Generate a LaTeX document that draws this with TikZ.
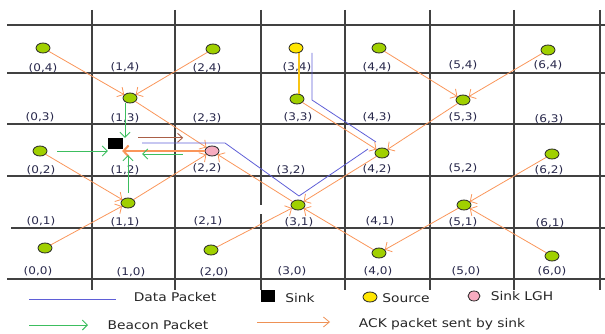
\documentclass[tikz,border=0pt]{standalone}
\usepackage{fontspec}
\setmainfont{DejaVu Sans}[FakeStretch=1.15]
\usetikzlibrary{arrows.meta,shapes.geometric}
\definecolor{gridgray}{RGB}{65,65,65}
\definecolor{nodegreen}{RGB}{160,208,0}
\definecolor{srcyellow}{RGB}{255,230,0}
\definecolor{srcline}{RGB}{248,196,20}
\definecolor{lghpink}{RGB}{246,172,192}
\definecolor{ackorange}{RGB}{250,150,90}
\definecolor{datablue}{RGB}{95,95,215}
\definecolor{beacongreen}{RGB}{60,190,95}
\definecolor{fwdbrown}{RGB}{170,95,70}
\definecolor{labelink}{RGB}{40,40,75}
\begin{document}
\begin{tikzpicture}[x=1pt,y=-1pt]
  \tikzset{sensor/.style={draw=black!85, ellipse, inner sep=0pt, minimum width=14pt, minimum height=10pt, fill=nodegreen, line width=0.8pt},
    cell/.style={text=labelink, font=\fontsize{10.5}{12}\selectfont, inner sep=0pt},
    legend/.style={text=black!85, font=\fontsize{12}{14}\selectfont, inner sep=0pt},
    gridline/.style={draw=gridgray, line width=1.2pt},
    ack/.style={draw=ackorange, line width=0.8pt, -{Straight Barb[length=5pt,width=11pt]}},
    beacon/.style={draw=beacongreen, line width=0.9pt, -{Straight Barb[length=5pt,width=10pt]}},
    data/.style={draw=datablue, line width=0.8pt}}
  \useasboundingbox (0,0) rectangle (605,334);

  % grid
  \foreach \y in {25,73,124,176,279}
    \draw[gridline] (7,\y) -- (605,\y);
  \draw[gridline] (11,228) -- (605,228);
  \foreach \x in {92,175,345,430,514,600}
    \draw[gridline] (\x,10) -- (\x,290);
  \draw[gridline] (261,10) -- (261,205);
  \draw[gridline] (261,214) -- (261,290);

  % cell labels
  \node[cell] at (43,68) (l04) {(0,4)};
  \node[cell] at (125,67) (l14) {(1,4)};
  \node[cell] at (207,68) (l24) {(2,4)};
  \node[cell] at (297,67) (l34) {(3,4)};
  \node[cell] at (377,67) (l44) {(4,4)};
  \node[cell] at (463,65) (l54) {(5,4)};
  \node[cell] at (548,65) (l64) {(6,4)};
  \node[cell] at (40,117) (l03) {(0,3)};
  \node[cell] at (125,118) (l13) {(1,3)};
  \node[cell] at (207,118) (l23) {(2,3)};
  \node[cell] at (298,117) (l33) {(3,3)};
  \node[cell] at (377,117) (l43) {(4,3)};
  \node[cell] at (463,117) (l53) {(5,3)};
  \node[cell] at (549,119) (l63) {(6,3)};
  \node[cell] at (41,170) (l02) {(0,2)};
  \node[cell] at (125,170) (l12) {(1,2)};
  \node[cell] at (207,168) (l22) {(2,2)};
  \node[cell] at (291,170) (l32) {(3,2)};
  \node[cell] at (377,169) (l42) {(4,2)};
  \node[cell] at (463,168) (l52) {(5,2)};
  \node[cell] at (549,170) (l62) {(6,2)};
  \node[cell] at (41,221) (l01) {(0,1)};
  \node[cell] at (125,222) (l11) {(1,1)};
  \node[cell] at (208,221) (l21) {(2,1)};
  \node[cell] at (299,222) (l31) {(3,1)};
  \node[cell] at (380,221) (l41) {(4,1)};
  \node[cell] at (463,222) (l51) {(5,1)};
  \node[cell] at (550,223) (l61) {(6,1)};
  \node[cell] at (38,271) (l00) {(0,0)};
  \node[cell] at (131,272) (l10) {(1,0)};
  \node[cell] at (214,272) (l20) {(2,0)};
  \node[cell] at (292,271) (l30) {(3,0)};
  \node[cell] at (378,271) (l40) {(4,0)};
  \node[cell] at (466,271) (l50) {(5,0)};
  \node[cell] at (552,271) (l60) {(6,0)};

  % sensors
  \node[sensor] at (43,48) (n04) {};
  \node[sensor] at (213,49) (n24) {};
  \node[sensor, fill=srcyellow] at (296,48) (src) {};
  \node[sensor] at (379,48) (n44) {};
  \node[sensor] at (548,50) (n64) {};
  \node[sensor] at (130,98) (n13) {};
  \node[sensor] at (297,99) (n33) {};
  \node[sensor] at (463,100) (n53) {};
  \node[sensor] at (40,151) (n02) {};
  \node[draw, fill=black, inner sep=0pt, minimum width=14pt, minimum height=10pt] at (115,143) (sink) {};
  \node[sensor, fill=lghpink] at (212,151) (lgh) {};
  \node[sensor] at (382,153) (n42) {};
  \node[sensor] at (552,154) (n62) {};
  \node[sensor] at (128,203) (n11) {};
  \node[sensor] at (298,205) (n31) {};
  \node[sensor] at (464,205) (n51) {};
  \node[sensor] at (45,248) (n00) {};
  \node[sensor] at (211,250) (n20) {};
  \node[sensor] at (379,253) (n40) {};
  \node[sensor] at (552,256) (n60) {};

  % ACK packets
  \path[ack] (n04) edge (n13);
  \path[ack] (n24) edge (n13);
  \path[ack] (n13) edge (lgh);
  \path[ack] (n02) edge (n11);
  \path[ack] (n00) edge (n11);
  \path[ack] (n11) edge (lgh);
  \path[ack] (n31) edge (lgh);
  \path[ack] (n20) edge (n31);
  \path[ack] (n42) edge (n31);
  \path[ack] (n40) edge (n31);
  \path[ack] (n51) edge (n40);
  \path[ack] (n60) edge (n51);
  \path[ack] (n62) edge (n51);
  \path[ack] (n33) edge (n42);
  \path[ack] (n53) edge (n42);
  \path[ack] (n44) edge (n53);
  \path[ack] (n64) edge (n53);
  \draw[ack, line width=2pt] (lgh.west) -- (lgh.west -| sink.east);
  \draw[draw=fwdbrown, line width=0.9pt, -{Straight Barb[length=5pt,width=9pt]}] ([xshift=16pt]sink.north east) -- ([xshift=61pt]sink.north east);

  % beacons
  \draw[beacon] ([xshift=-5pt]n13.south) -- ([xshift=-5pt]n13.south |- sink.north);
  \draw[beacon, shorten <=10pt] (n02.east) -- (n02.east -| sink.west);
  \draw[beacon, shorten <=5pt, shorten >=7pt] (n11.north) -- (n11.north |- sink.south);
  \draw[beacon, shorten <=22pt, shorten >=20pt] ([yshift=-3pt]lgh.west) -- ([yshift=-3pt]lgh.west -| sink.east);

  % data path from source
  \draw[draw=srcline, line width=1.3pt] ([xshift=3pt]src.south) -- ([xshift=2pt]n33.north);
  \coordinate (d1) at (312,53);
  \coordinate (d2) at (312,100);
  \coordinate (d3) at (376,142);
  \coordinate (d4) at (368,149);
  \coordinate (d5) at (299,196);
  \coordinate (d6) at (225,143);
  \coordinate (d7) at (142,143);
  \draw[data] (d1) -- (d2) -- (d3);
  \draw[data] (d4) -- (d5) -- (d6) -- (d7);

  % legend
  \coordinate (kd1) at (29,299);
  \coordinate (kd2) at (116,299);
  \draw[data] (kd1) -- (kd2);
  \node[legend] at (175,297) (kdata) {Data Packet};
  \node[draw, fill=black, inner sep=0pt, minimum width=13pt, minimum height=11pt] at (268,296) (ksink) {};
  \node[legend] at (300,298) (ksinktxt) {Sink};
  \node[sensor, fill=srcyellow] at (370,297) (ksrc) {};
  \node[legend] at (406,298) (ksrctxt) {Source};
  \node[sensor, fill=lghpink, minimum width=12pt] at (474,296) (klgh) {};
  \node[legend] at (522,296) (klghtxt) {Sink LGH};
  \coordinate (kb1) at (29,325);
  \coordinate (kb2) at (88,325);
  \draw[beacon] (kb1) -- (kb2);
  \node[legend] at (158,325) (kbeacon) {Beacon Packet};
  \coordinate (ka1) at (257,322);
  \coordinate (ka2) at (330,322);
  \draw[draw=ackorange!80!brown, line width=0.8pt, -{Straight Barb[length=6pt,width=10pt]}] (ka1) -- (ka2);
  \node[legend] at (442,324) (kack) {ACK packet sent by sink};
\end{tikzpicture}
\end{document}
